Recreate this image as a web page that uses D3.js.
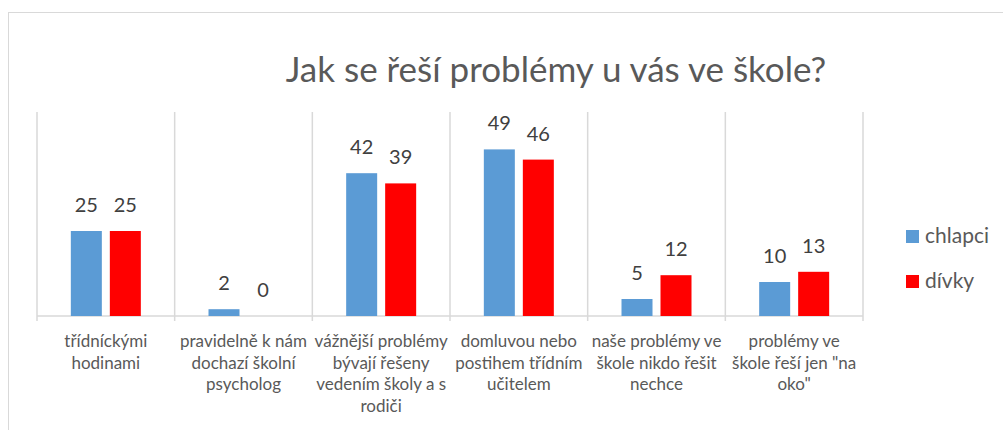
<!DOCTYPE html>
<html lang="cs">
<head>
<meta charset="UTF-8">
<title>Jak se řeší problémy u vás ve škole?</title>
<style>
  body { margin: 0; background: #fff; }
  svg { display: block; font-family: Lato, "Open Sans", sans-serif; }
</style>
</head>
<body>
<script src="https://d3js.org/d3.v7.min.js"></script>
<div id="chart"></div>
<script>
// data
const categories = [
  ["třídníckými", "hodinami"],
  ["pravidelně k nám", "dochazí školní", "psycholog"],
  ["vážnější problémy", "bývají řešeny", "vedením školy a s", "rodiči"],
  ["domluvou nebo", "postihem třídním", "učitelem"],
  ["naše problémy ve", "škole nikdo řešit", "nechce"],
  ["problémy ve", "škole řeší jen \"na", "oko\""]
];
const chlapci = [25, 2, 42, 49, 5, 10];
const divky = [25, 0, 39, 46, 12, 13];
const seriesNames = ["chlapci", "dívky"];
const seriesColors = ["#5b9bd5", "#ff0000"];

const width = 1003, height = 430;
const plot = { left: 37, right: 863, top: 112, bottom: 316 };

const svg = d3.select("#chart").append("svg")
  .attr("width", width).attr("height", height);

// outer chart frame
svg.append("rect")
  .attr("x", 8.5).attr("y", 12.5)
  .attr("width", 1000).attr("height", 440)
  .attr("fill", "none").attr("stroke", "#d9d9d9");

// title
svg.append("text")
  .attr("x", 556).attr("y", 82)
  .attr("text-anchor", "middle")
  .attr("fill", "#595959")
  .style("font-size", "35px")
  .text("Jak se řeší problémy u vás ve škole?");

const x = d3.scaleBand().domain(d3.range(categories.length))
  .range([plot.left, plot.right]).padding(0);
const x1 = d3.scaleBand().domain([0, 1]).range([-35, 35]).paddingInner(0.205);
const y = d3.scaleLinear().domain([0, 60]).range([plot.bottom, plot.top]);

// vertical separators (category borders) with tick below axis
const borders = categories.map((c, i) => x(i)).concat([plot.right]);
svg.append("g").selectAll("line").data(borders).enter().append("line")
  .attr("x1", d => d).attr("x2", d => d)
  .attr("y1", plot.top).attr("y2", plot.bottom + 5)
  .attr("stroke", "#d9d9d9").attr("stroke-width", 1.5);

// baseline
svg.append("line")
  .attr("x1", plot.left).attr("x2", plot.right)
  .attr("y1", y(0)).attr("y2", y(0))
  .attr("stroke", "#d9d9d9").attr("stroke-width", 1.5);

// bars + value labels
const series = [chlapci, divky];
series.forEach((vals, s) => {
  const g = svg.append("g");
  g.selectAll("rect").data(vals).enter().append("rect")
    .attr("x", (d, i) => x(i) + x.bandwidth() / 2 + x1(s))
    .attr("y", d => y(d))
    .attr("width", x1.bandwidth())
    .attr("height", d => y(0) - y(d))
    .attr("fill", seriesColors[s]);
  g.selectAll("text").data(vals).enter().append("text")
    .attr("x", (d, i) => x(i) + x.bandwidth() / 2 + x1(s) + x1.bandwidth() / 2)
    .attr("y", d => y(d) - 19)
    .attr("text-anchor", "middle")
    .attr("fill", "#404040")
    .style("font-size", "20px")
    .text(d => d);
});

// category labels
const labels = svg.append("g").selectAll("text").data(categories).enter().append("text")
  .attr("text-anchor", "middle")
  .attr("fill", "#595959")
  .style("font-size", "17px");
labels.selectAll("tspan").data(d => d).enter().append("tspan")
  .attr("x", function () { return x(categories.indexOf(d3.select(this.parentNode).datum())) + x.bandwidth() / 2; })
  .attr("y", (d, i) => 347 + i * 21.5)
  .text(d => d);

// legend
const legend = svg.append("g").selectAll("g").data(seriesNames).enter().append("g")
  .attr("transform", (d, i) => `translate(906,${230 + i * 45})`);
legend.append("rect")
  .attr("width", 13).attr("height", 13)
  .attr("fill", (d, i) => seriesColors[i]);
legend.append("text")
  .attr("x", 19).attr("y", 13)
  .attr("fill", "#595959")
  .style("font-size", "21px")
  .text(d => d);
</script>
</body>
</html>
